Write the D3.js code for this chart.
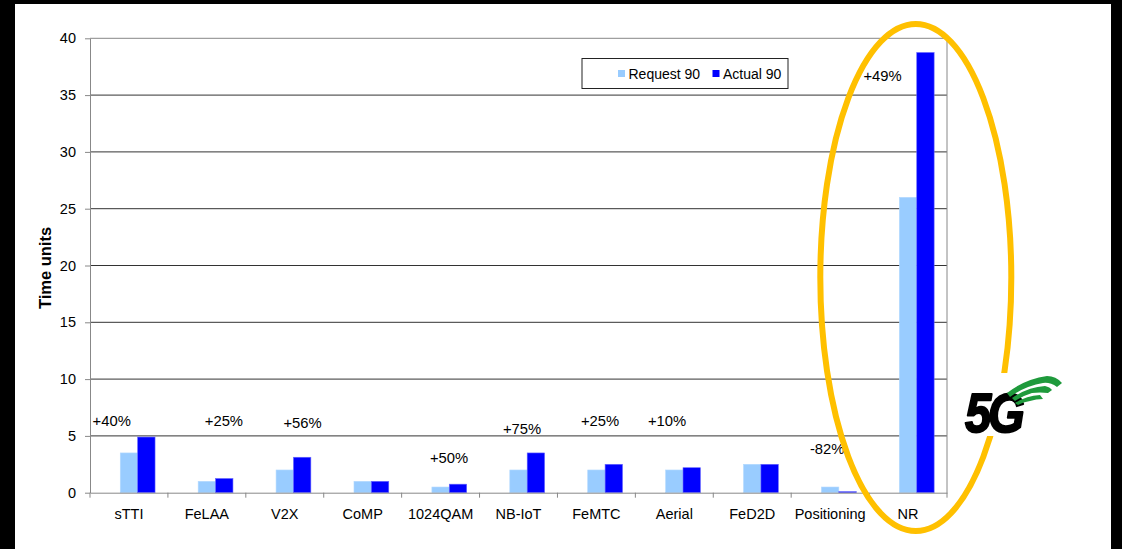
<!DOCTYPE html>
<html>
<head>
<meta charset="utf-8">
<script src="https://cdn.jsdelivr.net/npm/d3@7/dist/d3.min.js"></script>
<style>
  html, body { margin: 0; padding: 0; background: #000; }
  svg { display: block; }
  text { font-family: Arial, "Liberation Sans", sans-serif; fill: #000; }
</style>
</head>
<body>
<script>
//data
var categories = ["sTTI", "FeLAA", "V2X", "CoMP", "1024QAM", "NB-IoT", "FeMTC", "Aerial", "FeD2D", "Positioning", "NR"];
var request90 = [3.5, 1, 2, 1, 0.5, 2, 2, 2, 2.5, 0.5, 26];
var actual90 = [4.9, 1.25, 3.12, 1, 0.75, 3.5, 2.5, 2.2, 2.5, 0.09, 38.75];
var seriesNames = ["Request 90", "Actual 90"];
var yTicks = [0, 5, 10, 15, 20, 25, 30, 35, 40];

//settings
var settings = {
  width: 1122,
  height: 549,
  left: 90,
  right: 947,
  top: 38.3,
  bottom: 492.7,
  colors: ["#99ccff", "#0000ff"],
  font: 14.5
}

//where the hand placed percent boxes sit: [px from band start, y in chart units]
var labelSpot = {
  "sTTI": [21.7, 6.3], "FeLAA": [56, 6.3], "V2X": [56.7, 6.15], "1024QAM": [47.4, 3.08],
  "NB-IoT": [42.5, 5.67], "FeMTC": [42.6, 6.3], "Aerial": [31.7, 6.3],
  "Positioning": [36, 3.85], "NR": [13.5, 36.7]
}

var svg = d3.select('body').append('svg')
  .attr('width', settings.width)
  .attr('height', settings.height);

//black frame, white page
svg.append('rect').attr('width', settings.width).attr('height', settings.height).attr('fill', '#000');
svg.append('rect').attr('x', 15).attr('y', 4).attr('width', 1096).attr('height', 545).attr('fill', '#fff');

var x = d3.scaleBand().domain(categories).range([settings.left, settings.right]);
//first slot is the empty third series excel left in
var inner = d3.scaleBand().domain(["none"].concat(seriesNames)).range([0, x.bandwidth()])
  .paddingOuter(0.74);
var y = d3.scaleLinear().domain([0, 40]).range([settings.bottom, settings.top]);

//grid
svg.append('g').selectAll('line')
  .data(yTicks.slice(1))
  .enter().append('line')
  .attr('x1', settings.left).attr('x2', settings.right)
  .attr('y1', function(d) { return y(d); }).attr('y2', function(d) { return y(d); })
  .attr('stroke', function(d) { return d == 40 ? '#888' : '#333'; })
  .attr('stroke-width', 1);

//right border of plot
svg.append('line')
  .attr('x1', settings.right).attr('x2', settings.right)
  .attr('y1', settings.top).attr('y2', settings.bottom + 5)
  .attr('stroke', '#888');

//bars
var rows = categories.map(function(c, i) {
  return {cat: c, values: [request90[i], actual90[i]]};
});
var groups = svg.append('g').selectAll('g')
  .data(rows)
  .enter().append('g')
  .attr('transform', function(d) { return 'translate(' + x(d.cat) + ',0)'; });
groups.selectAll('rect')
  .data(function(d) { return d.values.map(function(v, j) { return {name: seriesNames[j], v: v, j: j}; }); })
  .enter().append('rect')
  .attr('x', function(d) { return inner(d.name); })
  .attr('width', inner.bandwidth())
  .attr('y', function(d) { return y(d.v); })
  .attr('height', function(d) { return y(0) - y(d.v); })
  .attr('fill', function(d) { return settings.colors[d.j]; })
  .attr('stroke', function(d) { return d.j == 0 ? '#b3d9ff' : '#6666ff'; })
  .attr('stroke-width', 0.6);

//y axis
var yAxis = svg.append('g')
  .attr('transform', 'translate(' + settings.left + ',0)')
  .call(d3.axisLeft(y).tickValues(yTicks).tickSize(5).tickPadding(9).tickSizeOuter(0));
yAxis.select('.domain').attr('stroke', '#888');
yAxis.selectAll('.tick line').attr('stroke', '#888');
yAxis.selectAll('text').attr('font-size', settings.font).attr('fill', '#000')
  .attr('font-family', 'Arial, "Liberation Sans", sans-serif');

//x axis, ticks between the categories
var xAxis = svg.append('g')
  .attr('transform', 'translate(0,' + settings.bottom + ')')
  .call(d3.axisBottom(x).tickSize(5).tickPadding(11).tickSizeOuter(0));
xAxis.select('.domain').attr('stroke', '#888');
xAxis.selectAll('.tick line')
  .attr('stroke', '#888')
  .attr('x1', -x.step() / 2).attr('x2', -x.step() / 2);
xAxis.selectAll('text').attr('font-size', settings.font).attr('fill', '#000')
  .attr('font-family', 'Arial, "Liberation Sans", sans-serif');

//axis title
svg.append('text')
  .attr('transform', 'translate(51,268) rotate(-90)')
  .attr('text-anchor', 'middle')
  .attr('font-size', 16.5)
  .attr('font-weight', 'bold')
  .text('Time units');

//percent change labels
svg.append('g').selectAll('text')
  .data(rows.filter(function(d) { return labelSpot[d.cat]; }))
  .enter().append('text')
  .attr('x', function(d) { return x(d.cat) + labelSpot[d.cat][0]; })
  .attr('y', function(d) { return y(labelSpot[d.cat][1]); })
  .attr('dy', '0.36em')
  .attr('text-anchor', 'middle')
  .attr('font-size', 14.8)
  .text(function(d) {
    var p = Math.round((d.values[1] / d.values[0] - 1) * 100);
    return (p > 0 ? '+' : '') + p + '%';
  });

//legend
var legend = svg.append('g');
legend.append('rect')
  .attr('x', 582).attr('y', 58.5).attr('width', 206).attr('height', 30)
  .attr('fill', '#fff').attr('stroke', '#222').attr('stroke-width', 1);
var legendX = [618, 712.5];
seriesNames.forEach(function(name, i) {
  legend.append('rect')
    .attr('x', legendX[i]).attr('y', 70).attr('width', 7).attr('height', 7)
    .attr('fill', settings.colors[i]);
  legend.append('text')
    .attr('x', legendX[i] + 10.5).attr('y', 73.5).attr('dy', '0.36em')
    .attr('font-size', 14)
    .text(name);
});

//orange ring round NR
svg.append('ellipse')
  .attr('cx', 915.8).attr('cy', 277.5).attr('rx', 95.5).attr('ry', 253.5)
  .attr('fill', 'none').attr('stroke', '#ffc000').attr('stroke-width', 6);

//5G logo
var logo = svg.append('g');
logo.append('rect').attr('x', 960).attr('y', 373).attr('width', 106).attr('height', 63).attr('fill', '#fff');
logo.append('text')
  .attr('transform', 'translate(965,432) scale(1.05,1.22)')
  .attr('font-size', 45)
  .attr('font-weight', 'bold')
  .attr('font-style', 'italic')
  .attr('letter-spacing', -3)
  .attr('stroke', '#000')
  .attr('stroke-width', 1.6)
  .attr('stroke-linejoin', 'round')
  .style('font-family', '"Liberation Sans", Arial, sans-serif')
  .text('5G');
var swoosh = [
  "M1007,393 Q1025,379 1047,376 Q1056,376 1062,383 L1057,387 Q1050,382 1043,383 Q1025,386 1010,397 Z",
  "M1012,398 Q1028,387 1045,386 Q1050,387 1052,390 L1048,393 Q1040,392 1032,393 Q1022,396 1015,401 Z",
  "M1015,403 Q1026,396 1040,395 L1043,399 Q1036,399 1030,401 Q1023,402 1018,405 Z"
];
logo.selectAll('path')
  .data(swoosh)
  .enter().append('path')
  .attr('d', function(d) { return d; })
  .attr('fill', '#1f9a3c');
</script>
</body>
</html>
